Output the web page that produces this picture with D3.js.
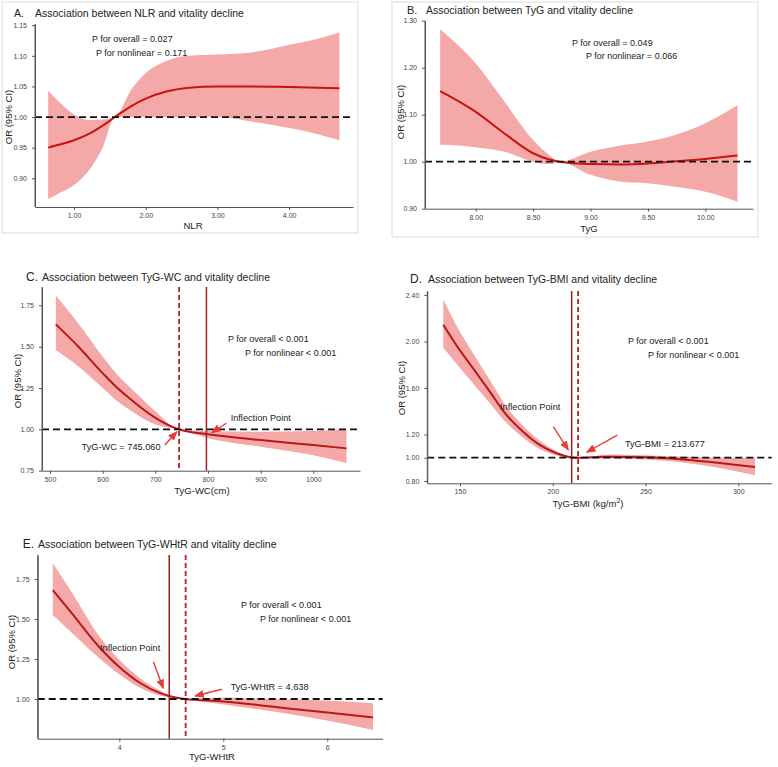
<!DOCTYPE html>
<html>
<head>
<meta charset="utf-8">
<script src="https://cdn.jsdelivr.net/npm/d3@7"></script>
<style>
  body { margin: 0; background: #fff; }
  svg { font-family: "Liberation Sans", Arial, sans-serif; }
  .tick text { fill: #444; font-size: 7px; }
  .domain, .tick line { stroke: #555; }
</style>
</head>
<body>
<div id="chart"></div>
<script>
// ---- data ----
// A. NLR
const nlrX     = [0.64, 0.8, 1.0, 1.2, 1.4, 1.57, 1.8, 2.0, 2.3, 2.6, 3.0, 3.5, 4.0, 4.4, 4.7];
const nlrOR    = [0.950, 0.955, 0.962, 0.972, 0.986, 1.000, 1.018, 1.030, 1.042, 1.048, 1.050, 1.050, 1.049, 1.048, 1.047];
const nlrUpper = [1.043, 1.024, 1.004, 0.995, 0.996, 1.000, 1.045, 1.072, 1.092, 1.100, 1.102, 1.106, 1.118, 1.128, 1.138];
const nlrLower = [0.866, 0.876, 0.889, 0.912, 0.950, 1.000, 1.000, 1.000, 1.000, 1.000, 1.000, 0.992, 0.982, 0.972, 0.962];

// B. TyG
const tygX     = [7.69, 8.0, 8.25, 8.5, 8.65, 8.73, 9.0, 9.25, 9.5, 9.75, 10.0, 10.28];
const tygOR    = [1.150, 1.106, 1.060, 1.018, 1.004, 1.000, 0.995, 0.994, 0.996, 1.001, 1.006, 1.013];
const tygUpper = [1.282, 1.209, 1.128, 1.046, 1.012, 1.000, 1.021, 1.034, 1.043, 1.058, 1.082, 1.120];
const tygLower = [1.036, 1.031, 1.021, 1.000, 0.995, 1.000, 0.972, 0.958, 0.954, 0.946, 0.936, 0.915];

// C. TyG-WC
const wcX     = [511, 554, 600, 628, 650, 700, 745, 800, 900, 1000, 1063];
const wcOR    = [1.635, 1.50, 1.34, 1.25, 1.19, 1.07, 1.0, 0.970, 0.935, 0.905, 0.885];
const wcUpper = [1.81, 1.64, 1.44, 1.33, 1.26, 1.11, 1.0, 0.99, 0.985, 0.99, 1.0];
const wcLower = [1.48, 1.38, 1.25, 1.17, 1.12, 1.03, 1.0, 0.947, 0.895, 0.844, 0.796];

// D. TyG-BMI
const bmiX     = [141, 148, 157, 166, 175, 184, 193, 202, 209.3, 213.7, 230, 250, 270, 290, 309];
const bmiOR    = [2.144, 1.97, 1.77, 1.57, 1.368, 1.224, 1.11, 1.038, 1.005, 1.0, 1.008, 1.003, 0.985, 0.955, 0.92];
const bmiUpper = [2.36, 2.14, 1.90, 1.67, 1.44, 1.275, 1.145, 1.055, 1.01, 1.0, 1.028, 1.022, 1.010, 1.0, 1.0];
const bmiLower = [1.945, 1.81, 1.64, 1.47, 1.30, 1.175, 1.075, 1.02, 1.0, 1.0, 0.993, 0.985, 0.958, 0.912, 0.85];

// E. TyG-WHtR
const whtrX     = [3.36, 3.55, 3.8, 4.0, 4.2, 4.4, 4.63, 5.0, 5.5, 6.0, 6.44];
const whtrOR    = [1.68, 1.53, 1.33, 1.20, 1.10, 1.035, 1.0, 0.985, 0.95, 0.915, 0.885];
const whtrUpper = [1.848, 1.66, 1.40, 1.245, 1.13, 1.05, 1.0, 1.01, 1.0, 0.99, 0.973];
const whtrLower = [1.525, 1.41, 1.26, 1.155, 1.07, 1.02, 1.0, 0.965, 0.92, 0.865, 0.806];

// ticks
const nlrXTicks  = [1, 2, 3, 4];
const nlrYTicks  = [0.90, 0.95, 1.00, 1.05, 1.10, 1.15];
const tygXTicks  = [8.0, 8.5, 9.0, 9.5, 10.0];
const tygYTicks  = [0.90, 1.00, 1.10, 1.20, 1.30];
const wcXTicks   = [500, 600, 700, 800, 900, 1000];
const wcYTicks   = [0.75, 1.00, 1.25, 1.50, 1.75];
const bmiXTicks  = [150, 200, 250, 300];
const bmiYTicks  = [0.80, 1.00, 1.20, 1.60, 2.00, 2.40];
const whtrXTicks = [4, 5, 6];
const whtrYTicks = [1.00, 1.25, 1.50, 1.75];

// p values and cut points
const pTexts = {
  A: ["P for overall = 0.027", "P for nonlinear = 0.171"],
  B: ["P for overall = 0.049", "P for nonlinear = 0.066"],
  C: ["P for overall < 0.001", "P for nonlinear < 0.001"],
  D: ["P for overall < 0.001", "P for nonlinear < 0.001"],
  E: ["P for overall < 0.001", "P for nonlinear < 0.001"]
};
const wcCut = 745.060, wcInflect = 797;
const bmiCut = 213.677, bmiInflect = 210.2;
const whtrCut = 4.638, whtrInflect = 4.48;

// ---- drawing ----
const W = 778, H = 767;
const svg = d3.select("#chart").append("svg").attr("width", W).attr("height", H);

const bandFill = "#f4a9a8";
const arrowRed = "#ec3b33";

svg.append("defs").append("marker")
  .attr("id", "arrow")
  .attr("viewBox", "0 0 10 10")
  .attr("refX", 9).attr("refY", 5)
  .attr("markerWidth", 7).attr("markerHeight", 7)
  .attr("orient", "auto-start-reverse")
  .append("path").attr("d", "M0,1 L10,5 L0,9 z").attr("fill", arrowRed);

function drawPanel(p) {
  if (p.box) {
    svg.append("rect")
      .attr("x", p.box[0]).attr("y", p.box[1])
      .attr("width", p.box[2] - p.box[0]).attr("height", p.box[3] - p.box[1])
      .attr("fill", "none").attr("stroke", "#dcdcdc");
  }

  const x = d3.scaleLinear().domain(p.xDomain).range([p.left, p.right]);
  const y = d3.scaleLinear().domain(p.yDomain).range([p.bottom, p.top]);

  const rows = p.xs.map((v, i) => ({x: v, or: p.or[i], lo: p.lo[i], hi: p.hi[i]}));

  // confidence band
  svg.append("path")
    .datum(rows)
    .attr("fill", bandFill)
    .attr("d", d3.area()
      .curve(d3.curveMonotoneX)
      .x(d => x(d.x))
      .y0(d => y(d.lo))
      .y1(d => y(d.hi)));

  // estimate
  svg.append("path")
    .datum(rows)
    .attr("fill", "none")
    .attr("stroke", p.lineColor)
    .attr("stroke-width", 2)
    .attr("d", d3.line()
      .curve(d3.curveMonotoneX)
      .x(d => x(d.x))
      .y(d => y(d.or)));

  // cut point lines
  if (p.inflect !== undefined) {
    svg.append("line")
      .attr("x1", x(p.inflect)).attr("x2", x(p.inflect))
      .attr("y1", p.top).attr("y2", p.bottom)
      .attr("stroke", "#a51d1d").attr("stroke-width", 1.5);
    svg.append("line")
      .attr("x1", x(p.cut)).attr("x2", x(p.cut))
      .attr("y1", p.top).attr("y2", p.bottom)
      .attr("stroke", "#b3202a").attr("stroke-width", 1.8)
      .attr("stroke-dasharray", "5,3");
  }

  // reference line OR = 1
  svg.append("line")
    .attr("x1", p.left).attr("x2", p.refEnd)
    .attr("y1", y(1)).attr("y2", y(1))
    .attr("stroke", "#111").attr("stroke-width", 1.8)
    .attr("stroke-dasharray", "7,4");

  // axes
  svg.append("g")
    .attr("transform", "translate(0," + p.bottom + ")")
    .call(d3.axisBottom(x).tickValues(p.xTicks).tickFormat(d3.format(p.xFmt))
      .tickSize(3).tickSizeOuter(0).tickPadding(3));
  svg.append("g")
    .attr("transform", "translate(" + p.left + ",0)")
    .call(d3.axisLeft(y).tickValues(p.yTicks).tickFormat(d3.format(".2f"))
      .tickSize(3).tickSizeOuter(0).tickPadding(5));
  // extend the y axis line to the top of the panel
  svg.append("line")
    .attr("x1", p.left).attr("x2", p.left)
    .attr("y1", p.top).attr("y2", p.bottom)
    .attr("stroke", "#555");

  // titles
  svg.append("text")
    .attr("x", p.letterX).attr("y", p.titleY)
    .attr("font-size", p.letterSize).attr("fill", "#222")
    .text(p.letter + ".");
  svg.append("text")
    .attr("x", p.titleX).attr("y", p.titleY)
    .attr("font-size", 10.5).attr("fill", "#222")
    .text(p.title);

  // axis titles
  const xl = svg.append("text")
    .attr("x", p.xLabelX).attr("y", p.xLabelY)
    .attr("text-anchor", "middle").attr("font-size", 9.5).attr("fill", "#222");
  if (p.xLabelSup) {
    xl.append("tspan").text(p.xLabel);
    xl.append("tspan").attr("dy", -4).attr("font-size", 7).text(p.xLabelSup);
    xl.append("tspan").attr("dy", 4).text(")");
  } else {
    xl.text(p.xLabel);
  }
  svg.append("text")
    .attr("transform", "translate(" + p.yLabelX + "," + p.yLabelY + ") rotate(-90)")
    .attr("text-anchor", "middle").attr("font-size", 9.5).attr("fill", "#222")
    .text("OR (95% CI)");

  // p values
  p.pPos.forEach((pos, i) => {
    svg.append("text")
      .attr("x", pos[0]).attr("y", pos[1])
      .attr("font-size", 9).attr("fill", "#222")
      .text(pTexts[p.letter][i]);
  });

  // annotations, in data coordinates
  (p.notes || []).forEach(n => {
    svg.append("text")
      .attr("x", x(n.tx)).attr("y", y(n.ty))
      .attr("font-size", 9.2).attr("fill", "#222")
      .text(n.text);
    svg.append("line")
      .attr("x1", x(n.ax0)).attr("y1", y(n.ay0))
      .attr("x2", x(n.ax1)).attr("y2", y(n.ay1))
      .attr("stroke", arrowRed).attr("stroke-width", 1.4)
      .attr("marker-end", "url(#arrow)");
  });
}

drawPanel({
  letter: "A", title: "Association between NLR and vitality decline",
  box: [2, 2, 358, 233],
  left: 35, right: 353, top: 24, bottom: 207, refEnd: 352,
  xDomain: [0.456, 4.89], yDomain: [0.853, 1.152],
  xs: nlrX, or: nlrOR, lo: nlrLower, hi: nlrUpper,
  xTicks: nlrXTicks, yTicks: nlrYTicks, xFmt: ".2f",
  lineColor: "#cc1111",
  letterX: 14, letterSize: 10.5, titleX: 35, titleY: 17,
  xLabel: "NLR", xLabelX: 193, xLabelY: 228.5,
  yLabelX: 12, yLabelY: 117,
  pPos: [[92, 42], [96, 56]]
});

drawPanel({
  letter: "B", title: "Association between TyG and vitality decline",
  box: [392, 2, 758, 237],
  left: 425, right: 753, top: 20.7, bottom: 208.7, refEnd: 752,
  xDomain: [7.558, 10.415], yDomain: [0.90, 1.30],
  xs: tygX, or: tygOR, lo: tygLower, hi: tygUpper,
  xTicks: tygXTicks, yTicks: tygYTicks, xFmt: ".2f",
  lineColor: "#cc1111",
  letterX: 407, letterSize: 11, titleX: 426, titleY: 14,
  xLabel: "TyG", xLabelX: 589, xLabelY: 232,
  yLabelX: 403.5, yLabelY: 112,
  pPos: [[572, 46], [586, 59]]
});

drawPanel({
  letter: "C", title: "Association between TyG-WC and vitality decline",
  left: 42, right: 360, top: 287, bottom: 470.7, refEnd: 360,
  xDomain: [484.8, 1088.6], yDomain: [0.75, 1.861],
  xs: wcX, or: wcOR, lo: wcLower, hi: wcUpper,
  xTicks: wcXTicks, yTicks: wcYTicks, xFmt: "d",
  lineColor: "#b81818",
  cut: wcCut, inflect: wcInflect,
  letterX: 26, letterSize: 12, titleX: 42, titleY: 281,
  xLabel: "TyG-WC(cm)", xLabelX: 202, xLabelY: 493.5,
  yLabelX: 21, yLabelY: 381,
  pPos: [[228, 342], [245, 356]],
  notes: [
    {text: "Inflection Point", tx: 843, ty: 1.051, ax0: 835, ay0: 1.037, ax1: 807, ay1: 0.980},
    {text: "TyG-WC = 745.060", tx: 560, ty: 0.875, ax0: 718, ay0: 0.905, ax1: 741, ay1: 0.986}
  ]
});

drawPanel({
  letter: "D", title: "Association between TyG-BMI and vitality decline",
  left: 427.3, right: 771.7, top: 291, bottom: 483.3, refEnd: 771.7,
  xDomain: [132.4, 318], yDomain: [0.78, 2.434],
  xs: bmiX, or: bmiOR, lo: bmiLower, hi: bmiUpper,
  xTicks: bmiXTicks, yTicks: bmiYTicks, xFmt: "d",
  lineColor: "#b81818",
  cut: bmiCut, inflect: bmiInflect,
  letterX: 410, letterSize: 12, titleX: 428, titleY: 283,
  xLabel: "TyG-BMI (kg/m", xLabelSup: "2", xLabelX: 588, xLabelY: 507,
  yLabelX: 404.5, yLabelY: 388,
  pPos: [[628, 344], [648, 358]],
  notes: [
    {text: "Inflection Point", tx: 171.6, ty: 1.41, ax0: 200.3, ay0: 1.267, ax1: 208.4, ay1: 1.066},
    {text: "TyG-BMI = 213.677", tx: 238.9, ty: 1.092, ax0: 234.8, ay0: 1.195, ax1: 218.3, ay1: 1.047}
  ]
});

drawPanel({
  letter: "E", title: "Association between TyG-WHtR and vitality decline",
  left: 37.7, right: 382.7, top: 555, bottom: 738.7, refEnd: 382.7,
  xDomain: [3.215, 6.533], yDomain: [0.752, 1.90],
  xs: whtrX, or: whtrOR, lo: whtrLower, hi: whtrUpper,
  xTicks: whtrXTicks, yTicks: whtrYTicks, xFmt: "d",
  lineColor: "#b81818",
  cut: whtrCut, inflect: whtrInflect,
  letterX: 22.7, letterSize: 12, titleX: 38, titleY: 548,
  xLabel: "TyG-WHtR", xLabelX: 212, xLabelY: 759.5,
  yLabelX: 14.5, yLabelY: 642,
  pPos: [[241, 608], [260, 622]],
  notes: [
    {text: "Inflection Point", tx: 3.814, ty: 1.30, ax0: 4.327, ay0: 1.233, ax1: 4.423, ay1: 1.067},
    {text: "TyG-WHtR = 4.638", tx: 5.071, ty: 1.056, ax0: 4.985, ay0: 1.061, ax1: 4.728, ay1: 1.019}
  ]
});
</script>
</body>
</html>
